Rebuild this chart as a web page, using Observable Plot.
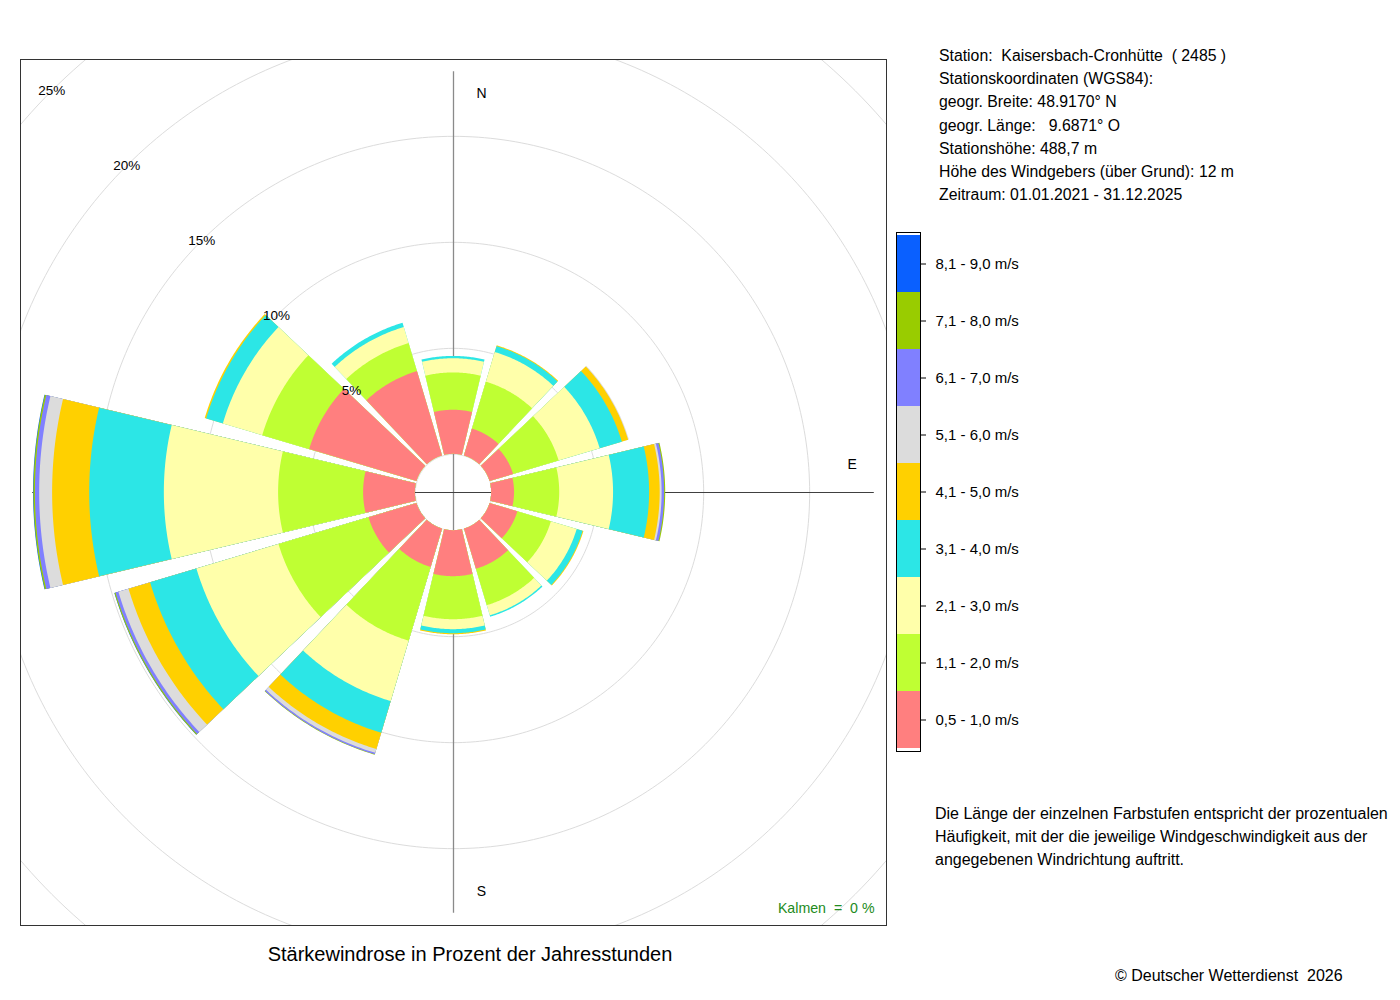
<!DOCTYPE html>
<html>
<head>
<meta charset="utf-8">
<script src="https://cdn.jsdelivr.net/npm/d3@7"></script>
<script src="https://cdn.jsdelivr.net/npm/@observablehq/plot@0.6"></script>
<style>
  body { margin: 0; background: #fff; font-family: "Liberation Sans", Arial, Helvetica, sans-serif; color: #000; }
  #page { position: relative; width: 1400px; height: 1000px; overflow: hidden; background: #fff; }
  .abs { position: absolute; white-space: pre; }
  svg text { white-space: pre; }
</style>
</head>
<body>
<div id="page">
  <div id="rose" class="abs" style="left:19px; top:58px;"></div>
  <div id="legend" class="abs" style="left:895px; top:231px;"></div>
  <div id="info" class="abs" style="left:939px; top:44px; font-size:15.8px; line-height:23.2px;"></div>
  <div id="note" class="abs" style="left:935px; top:803px; font-size:16px; line-height:22.8px;"></div>
  <div id="title" class="abs" style="left:170px; top:942px; width:600px; text-align:center; font-size:20px; line-height:24px;"></div>
  <div id="copyright" class="abs" style="left:1115px; top:965px; font-size:16px; line-height:22px;"></div>
</div>
<script>
// ---------- data ----------
const directions = [0, 30, 60, 90, 120, 150, 180, 210, 240, 270, 300, 330];
const speedClasses = ["0,5 - 1,0 m/s", "1,1 - 2,0 m/s", "2,1 - 3,0 m/s", "3,1 - 4,0 m/s", "4,1 - 5,0 m/s",
                      "5,1 - 6,0 m/s", "6,1 - 7,0 m/s", "7,1 - 8,0 m/s", "8,1 - 9,0 m/s"];
const classColors = ["#FF7F7F", "#BFFF33", "#FFFFAA", "#2CE6E6", "#FFD000",
                     "#DCDCDC", "#8080FF", "#99CC00", "#0A60FF"];
// percentage of yearly hours per direction (N, 30°, ..., 330°) for each speed class
const s05_10 = [2.08, 1.32, 1.16, 1.08, 1.37, 1.98, 2.17, 1.89, 2.36, 2.44, 5.28, 4.15];
const s11_20 = [1.76, 2.31, 2.24, 2.13, 1.65, 1.79, 2.03, 3.63, 4.43, 4.01, 2.31, 1.38];
const s21_30 = [0.67, 1.46, 2.02, 2.54, 1.27, 0.50, 0.47, 2.97, 4.04, 5.39, 1.94, 0.79];
const s31_40 = [0.11, 0.29, 1.09, 1.70, 0.29, 0.07, 0.19, 1.56, 2.28, 3.52, 0.82, 0.21];
const s41_50 = [0.00, 0.04, 0.31, 0.50, 0.04, 0.00, 0.05, 0.80, 1.06, 1.75, 0.07, 0.00];
const s51_60 = [0.00, 0.00, 0.04, 0.09, 0.00, 0.00, 0.00, 0.19, 0.50, 0.61, 0.00, 0.00];
const s61_70 = [0.00, 0.00, 0.00, 0.12, 0.00, 0.00, 0.00, 0.07, 0.14, 0.20, 0.00, 0.00];
const s71_80 = [0.00, 0.00, 0.00, 0.05, 0.00, 0.00, 0.00, 0.02, 0.05, 0.07, 0.00, 0.00];
const s81_90 = [0.00, 0.00, 0.00, 0.00, 0.00, 0.00, 0.00, 0.00, 0.01, 0.02, 0.00, 0.00];
const gridPercents = [5, 10, 15, 20, 25];
const compass = [{label: "N", deg: 0}, {label: "E", deg: 90}, {label: "S", deg: 180}, {label: "W", deg: 270}];
const calmPercent = 0;
const stationLines = [
  "Station:  Kaisersbach-Cronhütte  ( 2485 )",
  "Stationskoordinaten (WGS84):",
  "geogr. Breite: 48.9170° N",
  "geogr. Länge:   9.6871° O",
  "Stationshöhe: 488,7 m",
  "Höhe des Windgebers (über Grund): 12 m",
  "Zeitraum: 01.01.2021 - 31.12.2025"
];
const noteLines = [
  "Die Länge der einzelnen Farbstufen entspricht der prozentualen",
  "Häufigkeit, mit der die jeweilige Windgeschwindigkeit aus der",
  "angegebenen Windrichtung auftritt."
];
const titleText = "Stärkewindrose in Prozent der Jahresstunden";
const copyrightText = "© Deutscher Wetterdienst  2026";

// ---------- layout constants ----------
const calm = 1.8;          // radius of the central (calm) circle, in percent units
const halfWidth = 13.4;    // half angular width of a sector, degrees
const domainHalf = 20.425; // half extent of the square panel, in percent units
const axisExtent = 19.85;
const labelRadius = 18.8;
const rad = Math.PI / 180;

// ---------- build wedges ----------
const classSeries = [s05_10, s11_20, s21_30, s31_40, s41_50, s51_60, s61_70, s71_80, s81_90];
const cumulative = directions.map((d, i) => {
  let c = 0;
  return classSeries.map(s => (c += s[i]));
});
const wedgePts = [];
const steps = 48;
for (let k = classSeries.length - 1; k >= 0; k--) {
  directions.forEach((dir, i) => {
    if (!(classSeries[k][i] > 0)) return;
    const outer = calm + cumulative[i][k];
    for (let j = 0; j <= steps; j++) {
      const a = (dir - halfWidth + (2 * halfWidth * j) / steps) * rad;
      wedgePts.push({
        id: dir + "-" + k, cls: speedClasses[k],
        x1: outer * Math.sin(a), y1: outer * Math.cos(a),
        x2: calm * Math.sin(a), y2: calm * Math.cos(a)
      });
    }
  });
}
const circlePts = [0, ...gridPercents].flatMap(p =>
  d3.range(0, 361, 1).map(t => ({p, x: (calm + p) * Math.sin(t * rad), y: (calm + p) * Math.cos(t * rad)})));

const fontFamily = '"Liberation Sans", Arial, Helvetica, sans-serif';
const ns = compass.filter(c => c.deg % 180 === 0);
const ew = compass.filter(c => c.deg % 180 !== 0);

const rose = Plot.plot({
  width: 868, height: 868, margin: 1,
  x: {domain: [-domainHalf, domainHalf], axis: null},
  y: {domain: [-domainHalf, domainHalf], axis: null},
  color: {domain: speedClasses, range: classColors},
  style: {fontFamily, fontSize: "13px", background: "#fff", overflow: "visible"},
  marks: [
    Plot.line(circlePts, {x: "x", y: "y", z: "p", stroke: "#dcdcdc", strokeWidth: 1, clip: true}),
    Plot.ruleX([0], {y1: -axisExtent, y2: axisExtent, stroke: "#8a8a8a", strokeWidth: 1.3}),
    Plot.ruleY([0], {x1: -axisExtent, x2: axisExtent, stroke: "#404040", strokeWidth: 1}),
    Plot.text(ew, {x: d => labelRadius * Math.sin(d.deg * rad), y: d => labelRadius * Math.cos(d.deg * rad), text: "label", dy: -28, fontSize: 14}),
    Plot.area(wedgePts, {x1: "x1", y1: "y1", x2: "x2", y2: "y2", z: "id", fill: "cls"}),
    Plot.text(ns, {x: d => labelRadius * Math.sin(d.deg * rad), y: d => labelRadius * Math.cos(d.deg * rad), text: "label", dx: 28, fontSize: 14}),
    Plot.text(gridPercents, {x: p => -(calm + p) * Math.SQRT1_2, y: p => (calm + p) * Math.SQRT1_2, text: p => p + "%", fontSize: 13.5}),
    Plot.text([`Kalmen  =  ${calmPercent} %`], {frameAnchor: "bottom-right", textAnchor: "end", lineAnchor: "middle", dx: -12, dy: -17, fill: "#228B22", fontSize: 14.2}),
    Plot.frame({stroke: "#333", strokeWidth: 1})
  ]
});
document.getElementById("rose").appendChild(rose);

const legend = Plot.plot({
  width: 200, height: 521, marginTop: 1, marginBottom: 1, marginLeft: 1, marginRight: 175,
  y: {type: "band", domain: speedClasses.slice().reverse(), padding: 0, axis: "right", tickSize: 5, tickPadding: 10, label: null},
  color: {domain: speedClasses, range: classColors},
  style: {fontFamily, fontSize: "15px", background: "#fff", overflow: "visible"},
  marks: [
    Plot.cell(speedClasses, {y: d => d, fill: d => d}),
    Plot.frame({stroke: "#000", strokeWidth: 1})
  ]
});
document.getElementById("legend").appendChild(legend);

document.getElementById("info").textContent = stationLines.join("\n");
document.getElementById("note").textContent = noteLines.join("\n");
document.getElementById("title").textContent = titleText;
document.getElementById("copyright").textContent = copyrightText;
</script>
</body>
</html>
